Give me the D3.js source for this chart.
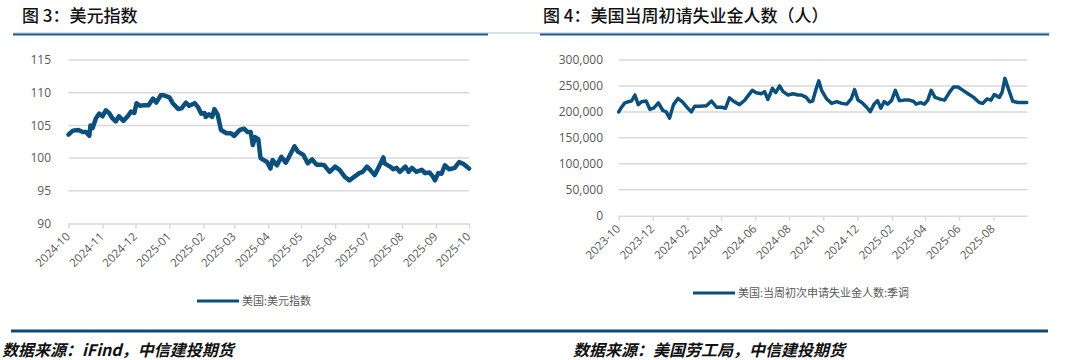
<!DOCTYPE html>
<meta charset="utf-8">
<script src="https://cdn.jsdelivr.net/npm/d3@7"></script>
<style>
  body { margin: 0; background: #fff; }
  svg { display: block; }
</style>
<div id="chart"></div>
<script>
  // ---- data: dollar index (left) ----
  const dxyDates = ["2024-10-01","2024-10-05","2024-10-10","2024-10-14","2024-10-17","2024-10-20","2024-10-21","2024-10-23",
    "2024-10-26","2024-10-29","2024-11-01","2024-11-04","2024-11-07","2024-11-10","2024-11-13","2024-11-16","2024-11-20",
    "2024-11-24","2024-11-27","2024-11-30","2024-12-02","2024-12-05","2024-12-09","2024-12-13","2024-12-17","2024-12-20",
    "2024-12-24","2024-12-27","2025-01-01","2025-01-04","2025-01-09","2025-01-12","2025-01-16","2025-01-19","2025-01-24",
    "2025-01-27","2025-01-30","2025-02-02","2025-02-03","2025-02-06","2025-02-09","2025-02-11","2025-02-14","2025-02-17",
    "2025-02-22","2025-02-26","2025-03-01","2025-03-06","2025-03-10","2025-03-13","2025-03-16","2025-03-18","2025-03-20",
    "2025-03-23","2025-03-25","2025-03-28","2025-03-31","2025-04-03","2025-04-05","2025-04-09","2025-04-13","2025-04-17",
    "2025-04-20","2025-04-25","2025-04-28","2025-05-03","2025-05-07","2025-05-11","2025-05-15","2025-05-19","2025-05-22",
    "2025-05-27","2025-06-01","2025-06-05","2025-06-10","2025-06-14","2025-06-19","2025-06-23","2025-06-26","2025-06-30",
    "2025-07-03","2025-07-07","2025-07-11","2025-07-15","2025-07-16","2025-07-21","2025-07-24","2025-07-27","2025-07-30",
    "2025-08-04","2025-08-07","2025-08-10","2025-08-14","2025-08-19","2025-08-22","2025-08-26","2025-08-29","2025-08-31",
    "2025-09-03","2025-09-06","2025-09-09","2025-09-13","2025-09-18","2025-09-22","2025-09-26","2025-10-01"];
  const dxyValues = [103.6,104.2,104.3,104.0,104.0,103.4,105.0,104.6,
    106.1,106.8,106.4,107.3,106.9,106.1,105.6,106.4,105.7,
    106.4,107.1,106.9,108.4,108.0,108.1,108.1,109.1,108.5,
    109.6,109.6,109.3,108.4,107.5,107.6,108.5,108.0,108.4,
    107.8,106.8,106.9,106.3,106.7,106.3,107.5,106.6,104.3,
    103.8,103.8,103.4,104.3,104.5,104.0,104.0,102.0,103.2,
    102.9,100.0,99.7,99.4,98.4,99.7,98.9,100.2,99.3,
    100.2,101.8,101.0,100.5,99.2,99.8,99.0,99.0,98.9,
    97.9,98.7,98.2,97.1,96.6,97.2,97.7,97.9,98.7,
    98.2,97.4,98.7,100.1,99.2,98.7,98.3,98.5,97.9,
    98.7,97.9,98.5,97.9,98.2,97.7,97.8,97.2,96.6,
    97.7,97.6,98.9,98.3,98.5,99.4,99.1,98.4];
  const dxyTicks = ["2024-10","2024-11","2024-12","2025-01","2025-02","2025-03","2025-04",
    "2025-05","2025-06","2025-07","2025-08","2025-09","2025-10"];
  const dxyYTicks = [90, 95, 100, 105, 110, 115];

  // ---- data: initial jobless claims (right) ----
  const claimDates = ["2023-10-01","2023-10-06","2023-10-12","2023-10-18","2023-10-24","2023-10-30","2023-11-05","2023-11-11",
    "2023-11-19","2023-11-26","2023-12-03","2023-12-11","2023-12-19","2023-12-25","2023-12-31","2024-01-07","2024-01-15",
    "2024-01-23","2024-01-31","2024-02-08","2024-02-14","2024-02-23","2024-03-06","2024-03-15","2024-03-24","2024-04-02",
    "2024-04-09","2024-04-16","2024-04-25","2024-05-04","2024-05-13","2024-05-19","2024-05-27","2024-06-03","2024-06-12",
    "2024-06-18","2024-06-24","2024-07-02","2024-07-08","2024-07-15","2024-07-21","2024-07-30","2024-08-08","2024-08-17",
    "2024-08-23","2024-08-31","2024-09-07","2024-09-12","2024-09-18","2024-09-23","2024-09-28","2024-10-07","2024-10-16",
    "2024-10-25","2024-11-03","2024-11-12","2024-11-20","2024-11-26","2024-12-02","2024-12-09","2024-12-18","2024-12-24",
    "2024-12-31","2025-01-06","2025-01-12","2025-01-18","2025-01-24","2025-01-31","2025-02-07","2025-02-14","2025-02-23",
    "2025-03-04","2025-03-12","2025-03-16","2025-03-24","2025-03-31","2025-04-06","2025-04-12","2025-04-19","2025-04-27",
    "2025-05-06","2025-05-15","2025-05-22","2025-05-30","2025-06-08","2025-06-17","2025-06-27","2025-07-07","2025-07-13",
    "2025-07-21","2025-07-28","2025-08-03","2025-08-12","2025-08-17","2025-08-22","2025-08-28","2025-09-05","2025-09-14",
    "2025-09-23","2025-09-30"];
  const claimValues = [200000,209000,217500,219500,221000,232500,214000,219500,
    221000,204700,207800,217500,202700,200000,188000,214000,226000,
    219500,209000,200000,211000,211000,212000,221000,209000,209000,
    207000,227000,219500,214000,222000,230500,241600,237000,235000,
    239000,224000,245500,237000,250000,239000,232500,235000,232500,
    232500,228600,219500,221000,243600,259700,241500,225000,216400,
    220000,216400,215000,225000,243000,223000,218000,208500,200600,
    215000,221700,207000,220000,215000,221700,241500,221700,222700,
    222700,220000,215000,218000,215000,222700,241500,228000,225000,
    222700,238000,248000,248000,241500,235000,228000,218000,216400,
    225000,222700,233600,228000,238000,264600,245000,220400,218000,
    218000,218000];
  const claimTicks = ["2023-10","2023-12","2024-02","2024-04","2024-06","2024-08",
    "2024-10","2024-12","2025-02","2025-04","2025-06","2025-08"];
  const claimYTicks = [0, 50000, 100000, 150000, 200000, 250000, 300000];

  const lineColor = "#0b4f7c"
  const gridColor = "#d9d9d9"
  const labelColor = "#595959"
  const parse = d3.timeParse("%Y-%m-%d")
  const parseMonth = d3.timeParse("%Y-%m")

  const svg = d3.select("#chart")
    .append("svg")
    .attr("width", 1080)
    .attr("height", 360);

  // titles
  svg.append("text").attr("x", 22).attr("y", 22)
    .text("图 3：美元指数")
    .style("font-family", "Noto Sans CJK SC").style("font-weight", 500)
    .style("font-size", "17px").attr("fill", "#111")
  svg.append("text").attr("x", 543).attr("y", 22)
    .text("图 4：美国当周初请失业金人数（人）")
    .style("font-family", "Noto Sans CJK SC").style("font-weight", 500)
    .style("font-size", "17px").attr("fill", "#111")

  // header rules
  svg.append("line").attr("x1", 13).attr("x2", 1050).attr("y1", 33).attr("y2", 33)
    .attr("stroke", "#a9c3da").attr("stroke-width", 1)
  svg.append("line").attr("x1", 13).attr("x2", 488).attr("y1", 34.5).attr("y2", 34.5)
    .attr("stroke", "#1f5a8a").attr("stroke-width", 2)
  svg.append("line").attr("x1", 540).attr("x2", 1049).attr("y1", 34.5).attr("y2", 34.5)
    .attr("stroke", "#1f5a8a").attr("stroke-width", 2)

  // footer rules + source text
  svg.append("line").attr("x1", 11).attr("x2", 1048).attr("y1", 331).attr("y2", 331)
    .attr("stroke", "#0b4a7a").attr("stroke-width", 3)
  svg.append("text").attr("x", 2).attr("y", 356)
    .text("数据来源：iFind，中信建投期货")
    .style("font-family", "Noto Sans CJK SC").style("font-weight", 700).style("font-style", "italic")
    .style("font-size", "16px").attr("fill", "#111")
  svg.append("text").attr("x", 573).attr("y", 356)
    .text("数据来源：美国劳工局，中信建投期货")
    .style("font-family", "Noto Sans CJK SC").style("font-weight", 700).style("font-style", "italic")
    .style("font-size", "16px").attr("fill", "#111")

  function drawPanel(opt) {
    const g = svg.append("g")
    const x = d3.scaleTime().domain(opt.xDomain).range([opt.left, opt.right])
    const y = d3.scaleLinear().domain(opt.yDomain).range([opt.bottom, opt.top])

    // gridlines
    g.selectAll(".grid")
      .data(opt.yTicks.slice(1))
      .enter().append("line")
      .attr("x1", opt.left).attr("x2", opt.right)
      .attr("y1", d => y(d)).attr("y2", d => y(d))
      .attr("stroke", gridColor).attr("stroke-width", 1.5)

    // y labels
    g.selectAll(".ylab")
      .data(opt.yTicks)
      .enter().append("text")
      .attr("x", opt.ylabX).attr("y", d => y(d)).attr("dy", "0.35em")
      .attr("text-anchor", "end")
      .text(opt.yFormat)
      .style("font-family", "Open Sans").style("font-size", "12px").attr("fill", labelColor)

    // x axis
    const tickDates = opt.xTicks.map(parseMonth)
    const ax = g.append("g")
      .attr("transform", `translate(0, ${opt.bottom})`)
      .call(d3.axisBottom(x).tickValues(tickDates).tickSize(5).tickSizeOuter(0)
        .tickFormat(d3.timeFormat("%Y-%m")))
    ax.select(".domain").attr("stroke", gridColor).attr("stroke-width", 1.5)
    ax.selectAll(".tick line").attr("stroke", gridColor).attr("stroke-width", 1.5)
    ax.selectAll("text")
      .attr("transform", "translate(-1,11)rotate(-45)")
      .style("text-anchor", "end")
      .attr("dy", "0.35em").attr("y", 0).attr("x", 0)
      .style("font-family", "Open Sans").style("font-size", "11.5px").attr("fill", labelColor)

    // series
    const pts = opt.dates.map((d, i) => [parse(d), opt.values[i]])
    g.append("path")
      .datum(pts)
      .attr("fill", "none")
      .attr("stroke", lineColor)
      .attr("stroke-width", opt.lineWidth)
      .attr("stroke-linejoin", "round")
      .attr("stroke-linecap", "round")
      .attr("d", d3.line().x(d => x(d[0])).y(d => y(d[1])))

    // legend
    g.append("line")
      .attr("x1", opt.legX).attr("x2", opt.legX + 42)
      .attr("y1", opt.legY).attr("y2", opt.legY)
      .attr("stroke", lineColor).attr("stroke-width", 3)
    g.append("text")
      .attr("x", opt.legX + 45).attr("y", opt.legY).attr("dy", "0.35em")
      .text(opt.legend)
      .style("font-family", "Noto Sans CJK SC").style("font-size", "11px").attr("fill", labelColor)
  }

  drawPanel({
    dates: dxyDates, values: dxyValues, xTicks: dxyTicks, yTicks: dxyYTicks,
    xDomain: [parse("2024-10-01"), parse("2025-10-01")], yDomain: [90, 115],
    left: 68.5, right: 469, top: 60, bottom: 223.5, ylabX: 51,
    yFormat: d => d, lineWidth: 4.5,
    legX: 197, legY: 301, legend: "美国:美元指数"
  })

  drawPanel({
    dates: claimDates, values: claimValues, xTicks: claimTicks, yTicks: claimYTicks,
    xDomain: [parse("2023-10-01"), parse("2025-10-01")], yDomain: [0, 300000],
    left: 618.7, right: 1027.3, top: 60, bottom: 215.7, ylabX: 603,
    yFormat: d3.format(","), lineWidth: 3.5,
    legX: 693, legY: 293, legend: "美国:当周初次申请失业金人数:季调"
  })
</script>
